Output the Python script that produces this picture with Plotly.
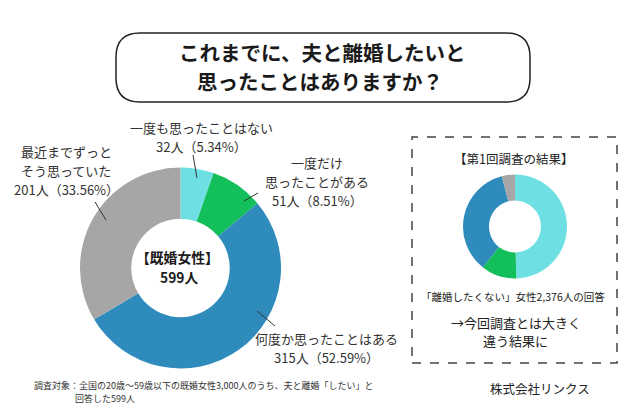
import plotly.graph_objects as go

# page has an 8px body margin; the figure is sized so the page is 640x416
OFF = 8
W, H = 640 - 2 * OFF, 416 - 2 * OFF

# ---- data ----
categories = ["一度も思ったことはない", "一度だけ<br>思ったことがある",
              "何度か思ったことはある", "最近までずっと<br>そう思っていた"]
counts = [32, 51, 315, 201]
colors = ["#6ee0e4", "#12bf5b", "#2e8bbc", "#a6a6a6"]

prev_categories = ["一度も思ったことはない", "一度だけ思ったことがある",
                   "何度か思ったことはある", "最近までずっとそう思っていた"]
prev_shares = [49.6, 11.0, 35.3, 4.1]
prev_total_label = "「離婚したくない」女性2,376人の回答"

title_lines = ["これまでに、夫と離婚したいと", "思ったことはありますか？"]
center_lines = ["【既婚女性】", f"{sum(counts)}人"]
footer_lines = ["調査対象：全国の20歳～59歳以下の既婚女性3,000人のうち、夫と離婚「したい」と",
                "回答した599人"]
company = "株式会社リンクス"
box_title = "【第1回調査の結果】"
box_note = ["→今回調査とは大きく", "違う結果に"]

total = sum(counts)
FONT = "Noto Sans CJK JP"


def px(x):
    return (x - OFF) / W


def py(y):
    return 1 - (y - OFF) / H


fig = go.Figure()

# main donut
fig.add_trace(go.Pie(
    labels=categories, values=counts, sort=False, direction="clockwise",
    rotation=0, hole=0.49, textinfo="none", hoverinfo="label+value+percent",
    marker=dict(colors=colors, line=dict(width=0)),
    domain=dict(x=[px(80), px(281)], y=[py(368.5), py(167.5)]),
    showlegend=False,
))

# previous survey donut
fig.add_trace(go.Pie(
    labels=prev_categories, values=prev_shares, sort=False, direction="clockwise",
    rotation=0, hole=0.5, textinfo="none",
    marker=dict(colors=colors, line=dict(width=0)),
    domain=dict(x=[px(463), px(567)], y=[py(278.5), py(174.5)]),
    showlegend=False,
))

annotations = []


def add_text(text, x, y, size, bold=False, color="#333333", xanchor="center"):
    if bold:
        text = f"<b>{text}</b>"
    annotations.append(dict(
        text=text, x=px(x), y=py(y), xref="paper", yref="paper",
        xanchor=xanchor, yanchor="middle", showarrow=False,
        font=dict(family=FONT, size=size, color=color), align="center",
    ))


# title
add_text(title_lines[0], 322, 52, 20.5, bold=True, color="#1a1a1a")
add_text(title_lines[1], 320, 81, 20.5, bold=True, color="#1a1a1a")

# center text
add_text(center_lines[0], 178, 257, 13.8, bold=True, color="#1a1a1a")
add_text(center_lines[1], 179, 277, 13.8, bold=True, color="#1a1a1a")

# slice labels: one annotation per line
label_x = [201, 317, 326, 66]
label_top = [127.5, 162, 338, 151.5]
LINE_GAP = 19
for name, c, lx, ly in zip(categories, counts, label_x, label_top):
    lines = name.split("<br>") + [f"{c}人（{c / total * 100:.2f}%）"]
    for i, ln in enumerate(lines):
        add_text(ln, lx, ly + i * LINE_GAP, 13)

# right box texts
add_text(box_title, 513, 158, 12.5, color="#222222")
add_text(prev_total_label, 513, 296, 10.5, color="#222222")
add_text(box_note[0], 516, 322, 13, color="#222222")
add_text(box_note[1], 515, 340, 13, color="#222222")

# footer
add_text(footer_lines[0], 32, 385, 9, color="#333333", xanchor="left")
add_text(footer_lines[1], 73, 398, 9, color="#333333", xanchor="left")
add_text(company, 540, 388, 12.5, color="#222222")

shapes = []

# leader lines
leaders = [((193, 155), (197, 178)), ((244, 201), (258, 193)),
           ((257, 311), (275, 326)), ((95, 202), (106, 220))]
for (x0, y0), (x1, y1) in leaders:
    shapes.append(dict(type="line", xref="paper", yref="paper",
                       x0=px(x0), y0=py(y0), x1=px(x1), y1=py(y1),
                       line=dict(color="#333333", width=1)))

# rounded title box
bx0, by0, bx1, by1, r = 116, 33, 530, 102, 24
path = (f"M {px(bx0 + r)},{py(by0)} L {px(bx1 - r)},{py(by0)} "
        f"Q {px(bx1)},{py(by0)} {px(bx1)},{py(by0 + r)} "
        f"L {px(bx1)},{py(by1 - r)} "
        f"Q {px(bx1)},{py(by1)} {px(bx1 - r)},{py(by1)} "
        f"L {px(bx0 + r)},{py(by1)} "
        f"Q {px(bx0)},{py(by1)} {px(bx0)},{py(by1 - r)} "
        f"L {px(bx0)},{py(by0 + r)} "
        f"Q {px(bx0)},{py(by0)} {px(bx0 + r)},{py(by0)} Z")
shapes.append(dict(type="path", xref="paper", yref="paper", path=path,
                   line=dict(color="#222222", width=1.5)))

# dashed box
shapes.append(dict(type="rect", xref="paper", yref="paper",
                   x0=px(412), y0=py(363), x1=px(617), y1=py(137),
                   line=dict(color="#444444", width=1.5, dash="dash")))

fig.update_layout(
    width=W, height=H, margin=dict(l=0, r=0, t=0, b=0),
    paper_bgcolor="white", plot_bgcolor="white",
    annotations=annotations, shapes=shapes,
    font=dict(family=FONT),
)

fig.write_html("out.html")
